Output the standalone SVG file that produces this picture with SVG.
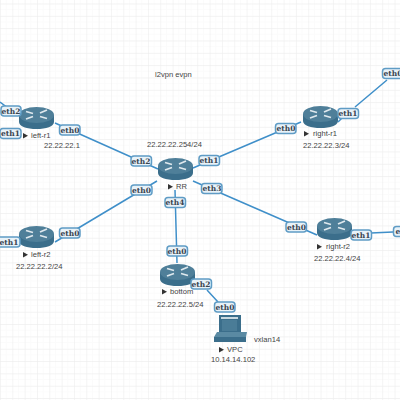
<svg xmlns="http://www.w3.org/2000/svg" width="400" height="400" viewBox="0 0 400 400">
<defs>
<pattern id="grid" width="12.33" height="12.33" patternUnits="userSpaceOnUse" patternTransform="translate(0 3.5)"><path d="M0 6.165H12.33M6.165 0V12.33" fill="none" stroke="#fbfbfb" stroke-width="1"/><path d="M12.33 0H0V12.33" fill="none" stroke="#eeeeee" stroke-width="1.200"/></pattern>
<g id="router">
<path d="M0 8V15C0 19.500 8 22 17.500 22S35 19.500 35 15V8Z" fill="#3b6e8b"/>
<ellipse cx="17.500" cy="8" rx="17.500" ry="8" fill="#4f7f99"/>
<path d="M7 4.500l7 2M28 3l-7 3M7 12l7-2.500M28 11.500l-7-2" stroke="#dfe9ee" stroke-width="1.800" fill="none"/>
</g>
<path id="tri" d="M0 0v5.500l5-2.750z" fill="#333"/>
</defs>
<style>
.l{fill:none;stroke:#3f8fc9;stroke-width:1.500}
.b rect{fill:#e8f2f8;stroke:#5f9cc5;stroke-width:1.500}
.b text{font:bold 7.500px "DejaVu Serif",serif;fill:#3a4450;text-anchor:middle}
.t{font:7.600px "Liberation Sans",sans-serif;fill:#444}
</style>
<rect width="400" height="400" fill="#fff"/>
<rect width="400" height="400" fill="url(#grid)"/>
<g id="connectors">
<path class="l" d="M0 102L8 108M55 123L158 169M193 168L301 122M338 122L342 118M355 107L387 80M55 242L157 181M175 190L177 263M193 181L317 235M371 233L393 232M207 290L218 302"/>
</g>
<text class="t" x="155" y="77">l2vpn evpn</text>
<g id="left-r1"><use href="#router" x="19" y="107"/><use href="#tri" x="23" y="133"/><text class="t" x="31" y="138">left-r1</text><text class="t" x="44" y="148">22.22.22.1</text></g>
<g id="rr"><use href="#router" x="158" y="158"/><use href="#tri" x="168" y="184"/><text class="t" x="176" y="189">RR</text><text class="t" x="147" y="147">22.22.22.254/24</text></g>
<g id="right-r1"><use href="#router" x="303" y="106"/><use href="#tri" x="304" y="131"/><text class="t" x="313" y="136">right-r1</text><text class="t" x="303" y="148">22.22.22.3/24</text></g>
<g id="left-r2"><use href="#router" x="19" y="226"/><use href="#tri" x="23" y="252"/><text class="t" x="31" y="257">left-r2</text><text class="t" x="16" y="269">22.22.22.2/24</text></g>
<g id="right-r2"><use href="#router" x="317" y="218"/><use href="#tri" x="317" y="244"/><text class="t" x="326" y="249">right-r2</text><text class="t" x="314" y="261">22.22.22.4/24</text></g>
<g id="bottom"><use href="#router" x="160" y="264"/><use href="#tri" x="162" y="289"/><text class="t" x="170" y="294">bottom</text><text class="t" x="157" y="307">22.22.22.5/24</text></g>
<g id="vpc"><path d="M219 315h22v20h-22z" fill="#3b6e8b"/><path d="M221 317h17v2h-17z" fill="#c8d8e0"/><path d="M222 320h15v11h-15z" fill="#4a7c97"/><path d="M217 332h30l-1 5h-32z" fill="#5a8aa3"/><path d="M214 337h32v5h-32z" fill="#3b6e8b"/><use href="#tri" x="219" y="347"/><text class="t" x="227" y="352">VPC</text><text class="t" x="211" y="362">10.14.14.102</text></g>
<text class="t" x="254" y="342">vxlan14</text>
<g id="labels">
<g class="b"><rect x="1" y="106" width="20" height="10" rx="3"/><text x="11" y="113.800">eth2</text></g>
<g class="b"><rect x="0" y="128.500" width="21" height="10" rx="3"/><text x="10.500" y="136.300">eth1</text></g>
<g class="b"><rect x="59.500" y="125" width="20.500" height="10" rx="3"/><text x="70" y="132.800">eth0</text></g>
<g class="b"><rect x="131" y="156" width="20.500" height="10" rx="3"/><text x="141" y="163.800">eth2</text></g>
<g class="b"><rect x="131" y="185" width="21" height="10" rx="3"/><text x="141.500" y="192.800">eth0</text></g>
<g class="b"><rect x="199" y="155.500" width="20.500" height="10" rx="3"/><text x="209" y="163.300">eth1</text></g>
<g class="b"><rect x="201.500" y="183.500" width="20.500" height="10" rx="3"/><text x="212" y="191.300">eth3</text></g>
<g class="b"><rect x="165" y="197.500" width="20.500" height="10" rx="3"/><text x="175" y="205.300">eth4</text></g>
<g class="b"><rect x="275.500" y="123.500" width="20.500" height="10" rx="3"/><text x="286" y="131.300">eth0</text></g>
<g class="b"><rect x="338" y="108.500" width="20.500" height="10" rx="3"/><text x="348" y="116.300">eth1</text></g>
<g class="b"><rect x="382.500" y="68.500" width="24" height="10" rx="3"/><text x="393" y="76.300">eth0</text></g>
<g class="b"><rect x="-3" y="237" width="23" height="10" rx="3"/><text x="9" y="244.800">eth1</text></g>
<g class="b"><rect x="59.500" y="228" width="20.500" height="10" rx="3"/><text x="70" y="235.800">eth0</text></g>
<g class="b"><rect x="286" y="222" width="20.500" height="10" rx="3"/><text x="296.500" y="229.800">eth0</text></g>
<g class="b"><rect x="351" y="230" width="20.500" height="10" rx="3"/><text x="361" y="237.800">eth1</text></g>
<g class="b"><rect x="393.500" y="226.500" width="24" height="10" rx="3"/><text x="405" y="234.300">eth0</text></g>
<g class="b"><rect x="167" y="246" width="20.500" height="10" rx="3"/><text x="177" y="253.800">eth0</text></g>
<g class="b"><rect x="191" y="279" width="20.500" height="10" rx="3"/><text x="201" y="286.800">eth2</text></g>
<g class="b"><rect x="214.500" y="302" width="20.500" height="10" rx="3"/><text x="225" y="309.800">eth0</text></g>
</g>
</svg>
